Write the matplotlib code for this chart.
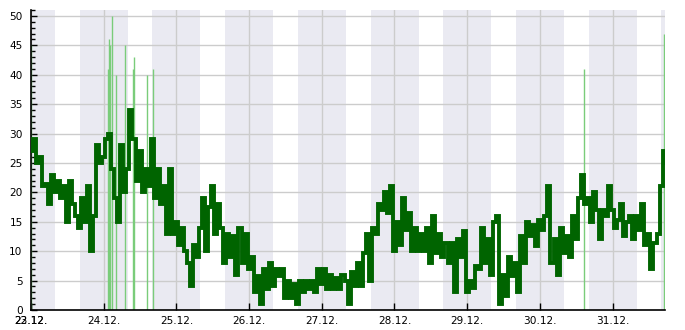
import matplotlib
matplotlib.use("Agg")
import matplotlib.pyplot as plt
import matplotlib.dates as mdates
import matplotlib.ticker as mticker
import numpy as np
import pandas as pd

# ---- data ----
start = "2023-12-23 00:00"
wind_hourly = [
    27, 29, 25, 26, 21, 21.5, 18, 23, 20, 22, 19, 21, 15, 22, 18, 16, 14, 19, 15, 21,
    10, 16, 28, 25, 26, 29, 30, 24, 19, 15, 28, 20, 24, 34, 29, 22, 27, 20, 24, 21,
    29, 19, 24, 18, 21, 13, 24, 13, 15, 11, 14, 10, 8, 4, 11, 9, 14, 19, 10, 17.5,
    21, 13, 18, 14, 8, 13, 9, 12.5, 6, 14, 8, 13, 7, 9, 3, 5.7, 1, 7, 3.5, 8,
    4, 7, 5.7, 7, 2, 5, 2, 4.5, 1, 5, 3, 5, 3.5, 5, 3, 7, 4.5, 7, 3.5, 6,
    3.5, 5.4, 3.5, 6, 5, 1, 6.5, 4, 8, 4, 9.7, 13, 5, 14, 13, 18, 17, 20, 16.5, 21,
    10, 15, 11, 19, 13.6, 16.5, 10, 14, 10, 13, 10, 14, 8, 16, 9.7, 13, 9, 11.4, 8, 11.4,
    3, 12, 9, 13.4, 3, 5, 3.7, 7.4, 7, 14, 8, 12, 6, 15, 16, 1, 6, 2.3, 9, 5.7,
    8, 3, 12.5, 8, 15, 12.5, 14.5, 10.8, 15.3, 13.6, 16, 21, 8, 12, 6, 14, 9.7, 12.5, 9, 16,
    12, 19, 23, 18, 19, 15, 20, 17, 12, 17, 16, 21, 17, 14, 15.3, 18, 12.5, 15, 16, 12,
    16, 13.6, 18, 11, 13, 7, 11.4, 13, 21, 27, 25,
]
gust_hours = [0.15, 25.3, 25.6, 26.1, 26.6, 28.0, 30.9, 33.6, 33.9, 38.2, 40.2, 182.4, 209.0]
gust_values = [45, 41, 46, 45, 50, 40, 45, 41, 43, 40, 41, 41, 47]
sunset = "16:05"
sunrise = "07:57"
first_label_extra = "22.12."

t0 = pd.Timestamp(start)
times = pd.date_range(t0, periods=len(wind_hourly), freq="h")
gust_times = [t0 + pd.Timedelta(hours=h) for h in gust_hours]
xmin = t0
xmax = t0 + pd.Timedelta(hours=209.3)

fig = plt.figure(figsize=(6.85, 3.3), dpi=100)
ax = fig.add_axes([31 / 685, 20 / 330, 634 / 685, 300 / 330])

# night shading
band_col = "#eaeaf2"
for d in range(-1, 10):
    day = t0.normalize() + pd.Timedelta(days=d)
    s = day + pd.Timedelta(sunset + ":00")
    e = day + pd.Timedelta(days=1) + pd.Timedelta(sunrise + ":00")
    ax.axvspan(s, e, color=band_col, lw=0, zorder=0)

ax.set_xlim(xmin, xmax)
ax.set_ylim(0, 51)

# grid
ax.grid(True, which="major", color="#cccccc", lw=1.0, zorder=1)
ax.set_axisbelow(True)

# gusts
ax.vlines(gust_times, 0, gust_values, color="#7acc7a", lw=1.0, zorder=2)

# wind
ax.plot(times, wind_hourly, color="#006400", lw=2.8, drawstyle="steps-mid",
        solid_joinstyle="miter", zorder=3)

# ticks
ax.yaxis.set_major_locator(plt.MultipleLocator(5))
ax.yaxis.set_minor_locator(plt.MultipleLocator(1))
ax.xaxis.set_major_locator(mdates.DayLocator())
ax.xaxis.set_major_formatter(mdates.DateFormatter("%d.%m."))
ax.xaxis.remove_overlapping_locs = False
ax.xaxis.set_minor_locator(mticker.FixedLocator([mdates.date2num(xmin)]))
ax.xaxis.set_minor_formatter(mticker.FixedFormatter([first_label_extra]))
ax.tick_params(axis="both", which="both", direction="in", labelsize=7.6,
               colors="black", pad=4)
ax.tick_params(axis="y", which="major", length=4, width=1, pad=6)
ax.tick_params(axis="y", which="minor", length=3, width=1)
ax.tick_params(axis="x", which="major", length=5, width=1)
ax.tick_params(axis="x", which="minor", length=5, width=1)
for sp in ["top", "right"]:
    ax.spines[sp].set_visible(False)
for sp in ["left", "bottom"]:
    ax.spines[sp].set_color("black")
    ax.spines[sp].set_linewidth(1.2)

fig.savefig("out.png", dpi=100)
